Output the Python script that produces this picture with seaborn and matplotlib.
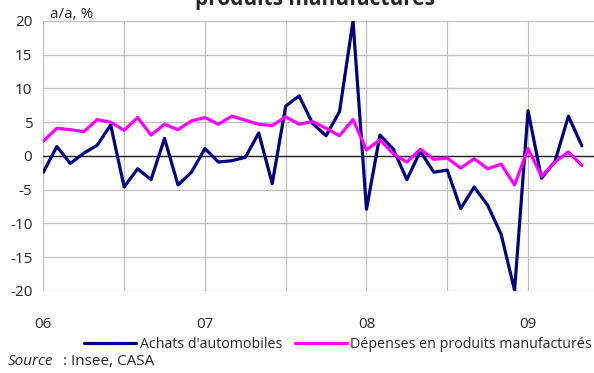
import numpy as np
import pandas as pd
import matplotlib
matplotlib.use('Agg')
import matplotlib.pyplot as plt
import seaborn as sns

# Données mensuelles, janv. 2006 -> mai 2009 (glissement annuel, %)
mois = pd.date_range('2006-01-01', periods=41, freq='MS')
achats_auto = [-2.4, 1.4, -1.1, 0.4, 1.6, 4.6, -4.6, -1.9, -3.5, 2.6,
               -4.3, -2.4, 1.1, -0.9, -0.7, -0.2, 3.4, -4.1, 7.4, 8.9,
               4.8, 3.0, 6.6, 20.0, -7.9, 3.1, 1.0, -3.5, 0.7, -2.4,
               -2.1, -7.8, -4.6, -7.3, -11.6, -19.9, 6.7, -3.3, -0.8, 5.9,
               1.5]
depenses_manuf = [2.2, 4.1, 3.9, 3.6, 5.4, 5.0, 3.8, 5.7, 3.1, 4.7,
                  3.9, 5.2, 5.7, 4.7, 5.9, 5.3, 4.7, 4.5, 5.8, 4.7,
                  5.1, 4.1, 3.0, 5.4, 0.9, 2.4, 0.3, -0.9, 1.0, -0.5,
                  -0.3, -1.8, -0.4, -1.9, -1.2, -4.3, 1.1, -3.0, -0.9, 0.6,
                  -1.4]
series = ["Achats d'automobiles", "Dépenses en produits manufacturés"]
couleurs = ['#000080', '#FF00FF']
annees = ['06', '07', '08', '09']

df = pd.DataFrame({'t': np.arange(len(mois)),
                   series[0]: achats_auto,
                   series[1]: depenses_manuf})
long = df.melt(id_vars='t', var_name='serie', value_name='val')

sns.set_style('white')
plt.rcParams['font.family'] = ['Open Sans', 'DejaVu Sans']

fig = plt.figure(figsize=(5.94, 3.73), dpi=100)
ax = fig.add_axes([0.073, 0.22, 0.927, 0.7237])

sns.lineplot(data=long, x='t', y='val', hue='serie', palette=couleurs,
             hue_order=series, linewidth=2.3, ax=ax, legend=True)

ax.set_xlim(0, 40.9)
ax.set_ylim(-20, 20)
ax.set_yticks(np.arange(-20, 21, 5))
ax.set_yticklabels([str(v) for v in range(-20, 21, 5)], fontsize=11)
ax.set_xticks(np.arange(0, 37, 6))
lab = []
for i in range(7):
    lab.append(annees[i // 2] if i % 2 == 0 else '')
ax.set_xticklabels(lab, fontsize=11)
ax.tick_params(axis='both', length=0)
ax.tick_params(axis='x', pad=19)
ax.tick_params(axis='y', pad=8)
ax.grid(True, color='#c0c0c0', linewidth=0.9)
ax.set_axisbelow(True)
ax.axhline(0, color='#222222', linewidth=1.0, zorder=1.5)
for s in ax.spines.values():
    s.set_visible(False)
ax.set_xlabel('')
ax.set_ylabel('')

ax.legend(loc='center', bbox_to_anchor=(0.535, -0.2), ncol=2, frameon=False,
          fontsize=10.3, handlelength=3.65, handletextpad=0.25, columnspacing=0.9,
          borderaxespad=0)

fig.text(0.084, 0.962, 'a/a, %', fontsize=11, va='center', ha='left')
fig.text(0.53, 1.0, 'produits manufacturés', fontsize=15, fontweight='bold',
         va='center', ha='center')
fig.text(0.013, 0.012, 'Source', fontsize=11, style='italic', va='bottom')
fig.text(0.106, 0.012, ': Insee, CASA', fontsize=11, va='bottom')

fig.savefig('out.png', dpi=100)
